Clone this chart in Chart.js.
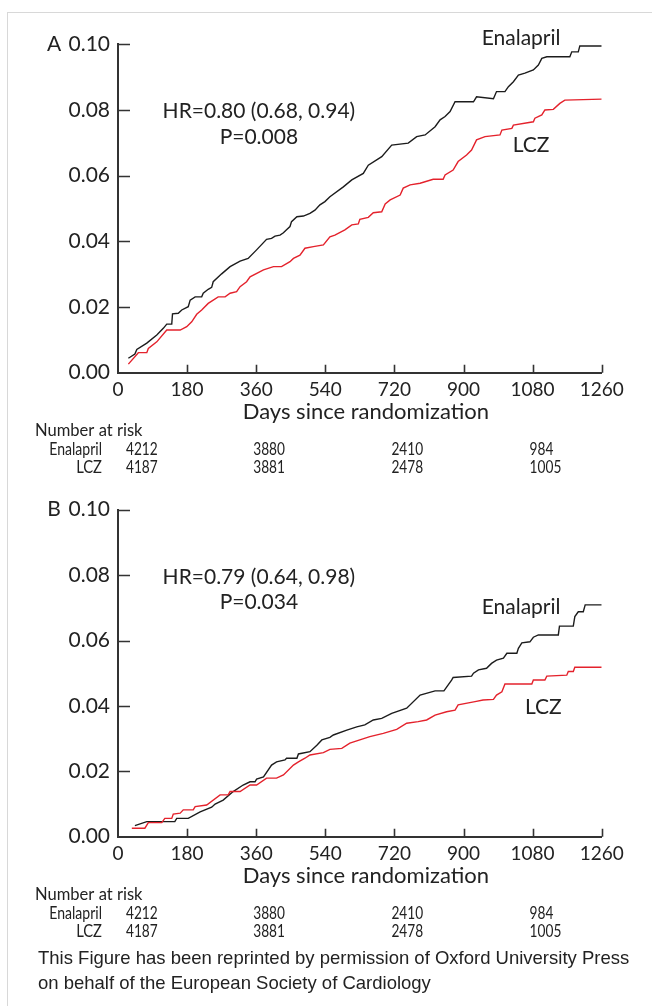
<!DOCTYPE html>
<html lang="en">
<head>
<meta charset="UTF-8" />
<title>Kaplan-Meier curves, Enalapril vs LCZ</title>
<style>
  body { margin: 0; background: #fff; width: 652px; height: 1006px; position: relative; overflow: hidden; }
  #frame { position: absolute; left: 7px; top: 12px; right: 0; bottom: 0; border-left: 1px solid #d8d8d8; border-top: 1px solid #d8d8d8; }
  canvas { position: absolute; left: 0; }
  #chartA { top: 0; }
  #chartB { top: 480px; }
  #note { position: absolute; left: 38px; top: 946px; font-family: "Liberation Sans", Arial, sans-serif; font-size: 18.5px; line-height: 24.5px; color: #222; white-space: nowrap; }
</style>
</head>
<body>
<div id="frame"></div>
<canvas id="chartA" width="652" height="480"></canvas>
<canvas id="chartB" width="652" height="470"></canvas>
<div id="note">This Figure has been reprinted by permission of Oxford University Press<br>on behalf of the European Society of Cardiology</div>

<script src="https://cdn.jsdelivr.net/npm/chart.js"></script>
<script>
  // axis ticks
  const dayTicks = [0, 180, 360, 540, 720, 900, 1080, 1260];
  const riskTicks = [0, 0.02, 0.04, 0.06, 0.08, 0.10];

  // number at risk (same table under both panels)
  const atRiskDays = [0, 360, 720, 1080];
  const atRiskEnalapril = [4212, 3880, 2410, 984];
  const atRiskLCZ = [4187, 3881, 2478, 1005];

  // panel A: cumulative event rate
  const aEnalaprilDays = [27, 44, 49, 75, 101, 118, 127, 140, 142, 157, 166, 183, 188, 201, 218, 222, 235, 244, 248, 270, 292, 318, 339, 361, 387, 400, 409, 422, 431, 439, 448, 452, 466, 483, 500, 513, 526, 539, 552, 587, 609, 639, 652, 687, 713, 756, 778, 800, 826, 839, 852, 865, 878, 926, 934, 978, 986, 1008, 1017, 1030, 1043, 1060, 1082, 1095, 1104, 1117, 1177, 1182, 1199, 1203, 1260];
  const aEnalaprilRate = [0.0044, 0.0057, 0.0071, 0.0090, 0.0115, 0.0135, 0.0148, 0.0148, 0.0179, 0.0181, 0.0191, 0.0201, 0.0221, 0.0231, 0.0231, 0.0242, 0.0254, 0.0260, 0.0277, 0.0301, 0.0323, 0.0340, 0.0348, 0.0374, 0.0406, 0.0409, 0.0416, 0.0419, 0.0426, 0.0435, 0.0445, 0.0460, 0.0475, 0.0477, 0.0485, 0.0495, 0.0511, 0.0521, 0.0536, 0.0566, 0.0587, 0.0607, 0.0632, 0.0658, 0.0693, 0.0699, 0.0719, 0.0724, 0.0749, 0.0770, 0.0780, 0.0795, 0.0825, 0.0825, 0.0840, 0.0834, 0.0856, 0.0856, 0.0871, 0.0886, 0.0906, 0.0912, 0.0922, 0.0937, 0.0957, 0.0962, 0.0962, 0.0977, 0.0977, 0.0995, 0.0995];
  const aLCZDays = [27, 53, 75, 79, 101, 127, 162, 179, 192, 205, 218, 235, 261, 279, 292, 309, 318, 335, 344, 379, 405, 426, 448, 457, 474, 487, 509, 535, 552, 565, 591, 609, 626, 630, 652, 665, 687, 696, 709, 735, 743, 761, 787, 821, 847, 852, 873, 886, 908, 921, 934, 956, 995, 1000, 1026, 1030, 1082, 1086, 1104, 1112, 1134, 1151, 1164, 1260];
  const aLCZRate = [0.0026, 0.0061, 0.0061, 0.0074, 0.0094, 0.0130, 0.0130, 0.0140, 0.0155, 0.0178, 0.0191, 0.0211, 0.0231, 0.0231, 0.0242, 0.0247, 0.0262, 0.0277, 0.0292, 0.0313, 0.0323, 0.0323, 0.0338, 0.0348, 0.0358, 0.0379, 0.0384, 0.0389, 0.0414, 0.0419, 0.0435, 0.0450, 0.0453, 0.0467, 0.0473, 0.0487, 0.0490, 0.0514, 0.0526, 0.0541, 0.0562, 0.0572, 0.0577, 0.0589, 0.0589, 0.0602, 0.0617, 0.0643, 0.0663, 0.0678, 0.0709, 0.0719, 0.0724, 0.0739, 0.0744, 0.0754, 0.0764, 0.0775, 0.0785, 0.0800, 0.0802, 0.0820, 0.0830, 0.0833];

  // panel B
  const bEnalaprilDays = [44, 75, 148, 153, 183, 214, 244, 253, 274, 300, 326, 344, 357, 361, 379, 400, 413, 435, 439, 466, 470, 500, 518, 531, 552, 561, 596, 622, 643, 665, 687, 713, 752, 787, 826, 849, 869, 873, 921, 926, 939, 960, 973, 986, 1004, 1013, 1039, 1043, 1052, 1073, 1082, 1095, 1147, 1150, 1186, 1190, 1199, 1212, 1217, 1260];
  const bEnalaprilRate = [0.0034, 0.0046, 0.0046, 0.0056, 0.0056, 0.0076, 0.0090, 0.0100, 0.0112, 0.0138, 0.0158, 0.0168, 0.0168, 0.0176, 0.0183, 0.0219, 0.0229, 0.0235, 0.0240, 0.0240, 0.0253, 0.0260, 0.0280, 0.0296, 0.0304, 0.0311, 0.0326, 0.0336, 0.0342, 0.0357, 0.0362, 0.0377, 0.0393, 0.0433, 0.0446, 0.0446, 0.0479, 0.0487, 0.0491, 0.0500, 0.0510, 0.0515, 0.0530, 0.0540, 0.0546, 0.0561, 0.0561, 0.0576, 0.0593, 0.0596, 0.0610, 0.0617, 0.0617, 0.0644, 0.0644, 0.0673, 0.0688, 0.0688, 0.0709, 0.0709];
  const bLCZDays = [36, 70, 79, 114, 122, 140, 144, 162, 170, 196, 201, 231, 266, 287, 292, 318, 344, 361, 387, 413, 431, 457, 470, 487, 500, 535, 552, 583, 604, 656, 691, 726, 752, 782, 804, 826, 856, 878, 886, 930, 951, 978, 986, 1000, 1008, 1078, 1082, 1112, 1117, 1169, 1173, 1186, 1190, 1260];
  const bLCZRate = [0.0026, 0.0026, 0.0043, 0.0043, 0.0056, 0.0056, 0.0069, 0.0072, 0.0082, 0.0082, 0.0092, 0.0097, 0.0128, 0.0128, 0.0138, 0.0138, 0.0158, 0.0158, 0.0179, 0.0179, 0.0189, 0.0219, 0.0229, 0.0240, 0.0250, 0.0257, 0.0267, 0.0270, 0.0286, 0.0306, 0.0316, 0.0328, 0.0347, 0.0352, 0.0357, 0.0372, 0.0382, 0.0387, 0.0403, 0.0413, 0.0418, 0.0420, 0.0433, 0.0443, 0.0467, 0.0467, 0.0479, 0.0479, 0.0491, 0.0494, 0.0505, 0.0505, 0.0518, 0.0518];

  const FONT = "Lato, 'Open Sans', sans-serif";
  const INK = "#222";
  const BLACK_LINE = "#1c1c1c";
  const RED_LINE = "#e4222c";

  function toPoints(days, vals) {
    return days.map((d, i) => ({ x: d, y: vals[i] }));
  }

  // squeezed text, the table font in the figure is a condensed face
  function narrowText(ctx, txt, x, y, align, sx) {
    ctx.save();
    ctx.translate(x, y);
    ctx.scale(sx, 1);
    ctx.textAlign = align;
    ctx.fillText(txt, 0, 0);
    ctx.restore();
  }

  function panelDecor(info) {
    return {
      id: "decor" + info.letter,
      afterDraw(chart) {
        const ctx = chart.ctx;
        const xs = chart.scales.x, ys = chart.scales.y;
        const area = chart.chartArea;
        ctx.save();

        // inward tick marks
        ctx.strokeStyle = "#333";
        ctx.lineWidth = 1.6;
        ctx.beginPath();
        riskTicks.forEach(v => {
          if (v === 0) return;
          const py = Math.round(ys.getPixelForValue(v)) + 0.5;
          ctx.moveTo(area.left, py);
          ctx.lineTo(area.left + 12, py);
        });
        dayTicks.forEach(d => {
          if (d === 0) return;
          const px = Math.round(xs.getPixelForValue(d)) + 0.5;
          ctx.moveTo(px, area.bottom);
          ctx.lineTo(px, area.bottom - 8);
        });
        ctx.stroke();

        ctx.fillStyle = INK;
        ctx.textBaseline = "middle";

        // panel letter
        ctx.font = "21px " + FONT;
        ctx.textAlign = "center";
        ctx.fillText(info.letter, 54, ys.getPixelForValue(0.10));

        // hazard ratio text
        ctx.fillText(info.hr, xs.getPixelForValue(367), ys.getPixelForValue(0.0795));
        ctx.fillText(info.p, xs.getPixelForValue(367), ys.getPixelForValue(0.0717));

        // series labels
        ctx.fillText("Enalapril", xs.getPixelForValue(info.enaLabel[0]), ys.getPixelForValue(info.enaLabel[1]));
        ctx.fillText("LCZ", xs.getPixelForValue(info.lczLabel[0]), ys.getPixelForValue(info.lczLabel[1]));

        // axis title
        ctx.font = "22px " + FONT;
        ctx.fillText("Days since randomization", (area.left + area.right) / 2 + 6, area.bottom + 39);

        // number at risk table
        const b = area.bottom;
        ctx.font = "18px " + FONT;
        narrowText(ctx, "Number at risk", 35, b + 57, "left", 0.92);
        narrowText(ctx, "Enalapril", 102, b + 76, "right", 0.78);
        narrowText(ctx, "LCZ", 102, b + 94, "right", 0.82);
        atRiskDays.forEach((d, i) => {
          const px = xs.getPixelForValue(d) + (i === 0 ? 8 : -3);
          narrowText(ctx, String(atRiskEnalapril[i]), px, b + 76, "left", 0.76);
          narrowText(ctx, String(atRiskLCZ[i]), px, b + 94, "left", 0.76);
        });
        ctx.restore();
      }
    };
  }

  function makePanel(canvasId, ena, lcz, pad, info) {
    const ctx = document.getElementById(canvasId).getContext("2d");
    return new Chart(ctx, {
      type: "line",
      data: {
        datasets: [
          { label: "LCZ", data: lcz, borderColor: RED_LINE, borderWidth: 1.4, pointRadius: 0, tension: 0, fill: false },
          { label: "Enalapril", data: ena, borderColor: BLACK_LINE, borderWidth: 1.4, pointRadius: 0, tension: 0, fill: false }
        ]
      },
      options: {
        responsive: false,
        animation: false,
        devicePixelRatio: 1,
        layout: { padding: pad },
        plugins: { legend: { display: false }, tooltip: { enabled: false } },
        scales: {
          x: {
            type: "linear",
            min: 0, max: 1260,
            afterBuildTicks: s => { s.ticks = dayTicks.map(v => ({ value: v })); },
            afterFit: s => { s.height = 40; },
            grid: { display: false, drawTicks: false, tickLength: 0 },
            border: { display: true, color: "#333", width: 2 },
            ticks: { color: INK, font: { family: FONT, size: 19 }, padding: 6, maxRotation: 0, callback: v => String(v) }
          },
          y: {
            min: 0, max: 0.10,
            afterBuildTicks: s => { s.ticks = riskTicks.map(v => ({ value: v })); },
            afterFit: s => { s.width = 118; },
            grid: { display: false, drawTicks: false, tickLength: 0 },
            border: { display: true, color: "#333", width: 2 },
            ticks: { color: INK, font: { family: FONT, size: 21 }, padding: 8, callback: v => v.toFixed(2) }
          }
        }
      },
      plugins: [panelDecor(info)]
    });
  }

  makePanel("chartA",
    toPoints(aEnalaprilDays, aEnalaprilRate),
    toPoints(aLCZDays, aLCZRate),
    { left: 0, right: 50.3, top: 44.3, bottom: 67.3 },
    { letter: "A", hr: "HR=0.80 (0.68, 0.94)", p: "P=0.008", enaLabel: [1050, 0.1019], lczLabel: [1076, 0.0693] });

  makePanel("chartB",
    toPoints(bEnalaprilDays, bEnalaprilRate),
    toPoints(bLCZDays, bLCZRate),
    { left: 0, right: 50.3, top: 29.7, bottom: 73.3 },
    { letter: "B", hr: "HR=0.79 (0.64, 0.98)", p: "P=0.034", enaLabel: [1050, 0.0703], lczLabel: [1108, 0.0396] });
</script>
</body>
</html>
